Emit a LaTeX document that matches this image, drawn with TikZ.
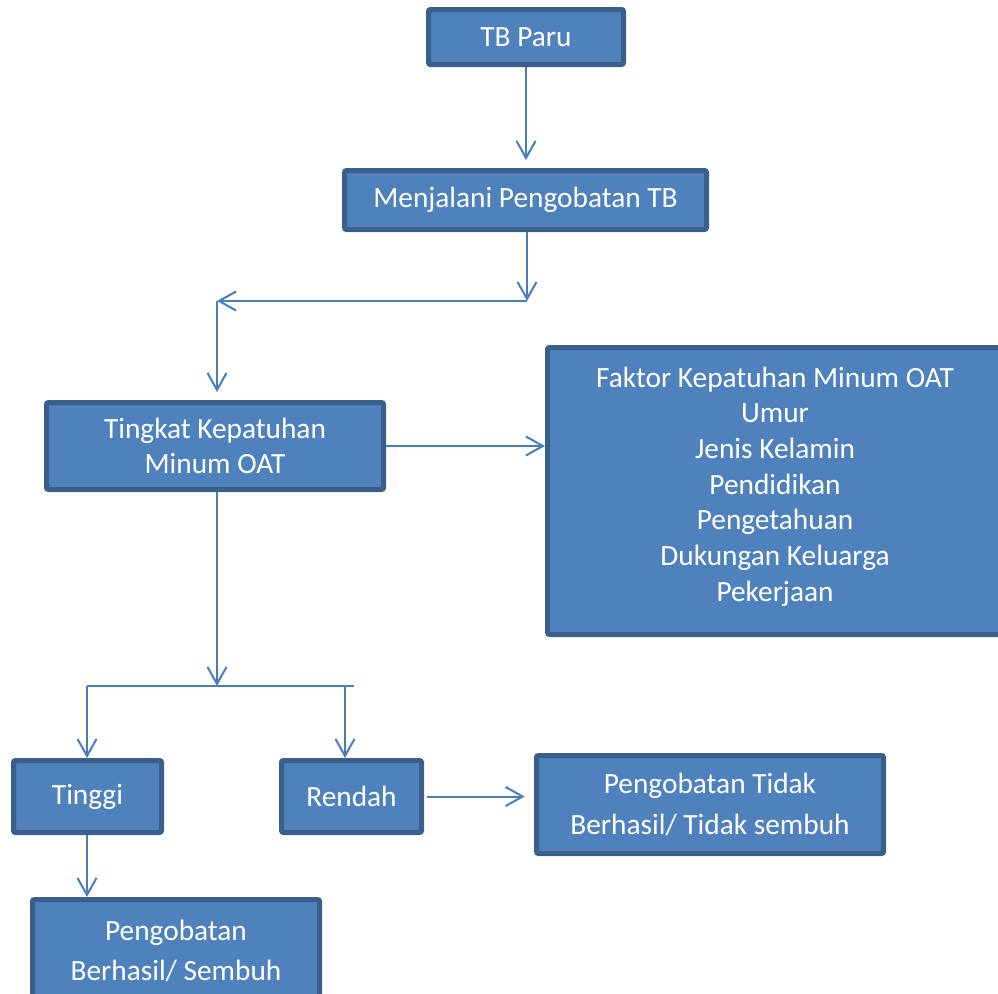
\documentclass[tikz,border=0pt]{standalone}
\usepackage{fontspec}
\setmainfont{Carlito}
\usetikzlibrary{arrows.meta}

\definecolor{boxfill}{HTML}{4F81BD}
\definecolor{boxline}{HTML}{3A5F8B}
\definecolor{arrline}{HTML}{4A7EBB}

\tikzset{
  box/.style={draw=boxline, fill=boxfill, line width=3.75pt, rounded corners=1.5pt,
    text=white, align=center, inner sep=0pt, font=\fontsize{22pt}{26.75pt}\selectfont},
  arr/.style={draw=arrline, line width=1.5pt, -{Straight Barb[length=12.75pt,width=14.25pt]}},
  link/.style={draw=arrline, line width=1.5pt},
}

\begin{document}
\begin{tikzpicture}[x=0.75pt,y=0.75pt,yscale=-1,xscale=1]
\useasboundingbox (0,0) rectangle (998,993);

% Boxes
\node[box, minimum width=146.25pt, minimum height=41.25pt] (paru) at (526,37) {TB Paru};
\node[box, minimum width=271.5pt, minimum height=44.25pt] (jalani) at (525.5,200) {Menjalani Pengobatan TB};
\node[box, minimum width=252.75pt, minimum height=65.25pt] (tingkat) at (215,446) {Tingkat Kepatuhan\\Minum OAT};
\node[box, minimum width=341.25pt, minimum height=215.25pt] (faktor) at (775,491) {Faktor Kepatuhan Minum OAT\\Umur\\Jenis Kelamin\\Pendidikan\\Pengetahuan\\Dukungan Keluarga\\Pekerjaan\\[-16pt]};
\node[box, minimum width=111pt, minimum height=54pt] (tinggi) at (87.5,796.5) {Tinggi};
\node[box, minimum width=105pt, minimum height=54pt] (rendah) at (351.5,796.5) {Rendah};
\node[box, minimum width=260.25pt, minimum height=73.5pt] (tidak) at (710,804.5) {Pengobatan Tidak\\[3.75pt]Berhasil/ Tidak sembuh};
\node[box, minimum width=215.25pt, minimum height=77.25pt] (berhasil) at (176,951) {Pengobatan\\[3.75pt]Berhasil/ Sembuh};

% Joints
\coordinate (j1) at (527,301);
\coordinate (j2) at (217,301);
\coordinate (s1) at (217,686);
\coordinate (b1) at (87,686);
\coordinate (b2) at (354,686);
\coordinate (b3) at (345,686);

% Connectors
\draw[arr, shorten >=6pt] (paru.south) -- (paru.south |- jalani.north);
\draw[arr] (jalani.south -| j1) -- (j1);
\draw[arr] (j1) -- (j2);
\draw[arr, shorten >=6pt] (j2) -- (j2 |- tingkat.north);
\draw[arr] (tingkat.east) -- (faktor.west |- tingkat.east);
\draw[arr] (tingkat.south -| s1) -- (s1);
\draw[link] (b1) -- (b2);
\draw[arr] (b1) -- (b1 |- tinggi.north);
\draw[arr] (b3) -- (b3 |- rendah.north);
\draw[arr] (tinggi.south -| b1) -- (b1 |- berhasil.north);
\draw[arr, shorten >=7pt] ([xshift=2pt]rendah.east) -- (tidak.west |- rendah.east);

\end{tikzpicture}
\end{document}
